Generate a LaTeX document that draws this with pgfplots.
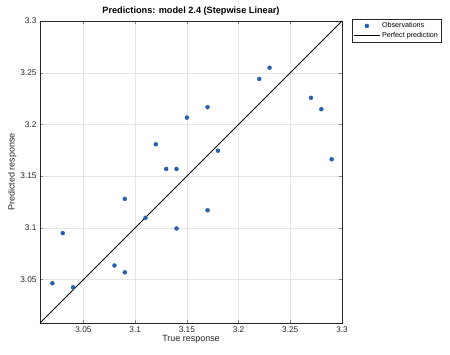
\documentclass[border=0pt]{standalone}
\usepackage{pgfplots}
\pgfplotsset{compat=1.18}
\usepackage{fontspec}
\setmainfont{Liberation Sans}
\usetikzlibrary{calc}
\definecolor{obs}{RGB}{40,95,170}
\definecolor{axgray}{RGB}{38,38,38}
\begin{document}
\begin{tikzpicture}
\begin{axis}[
  name=ax,
  scale only axis,
  width=302bp, height=302bp,
  xmin=3.008, xmax=3.3, ymin=3.008, ymax=3.3,
  xtick={3.05,3.1,3.15,3.2,3.25,3.3},
  ytick={3.05,3.1,3.15,3.2,3.25,3.3},
  /pgf/number format/assume math mode=true,
  /pgf/number format/fixed,
  /pgf/number format/precision=2,
  tick label style={font=\fontsize{8.3}{9}\selectfont, text=axgray},
  tick align=inside,
  major tick length=3bp,
  axis line style={axgray, line width=0.5pt},
  grid=major,
  grid style={gray!20, line width=0.4pt},
  title={\bfseries Predictions: model 2.4 (Stepwise Linear)},
  title style={font=\fontsize{9.2}{10}\selectfont, yshift=-4bp},
  xlabel={True response},
  ylabel={Predicted response},
  label style={font=\fontsize{9}{10}\selectfont, text=axgray},
  xlabel style={yshift=4bp},
  ylabel style={yshift=-3bp},
  legend style={at={(1.033,1.007)}, anchor=north west, font=\fontsize{7.2}{8}\selectfont,
    draw=axgray, line width=0.4pt, inner sep=1.5pt, row sep=-1pt},
  legend cell align=left,
]
\addplot[only marks, mark=*, mark size=2pt, color=obs,
  legend image code/.code={\draw plot coordinates {(0.45cm,0cm)};}] coordinates {
(3.15,3.2066) (3.17,3.2167) (3.22,3.244) (3.23,3.2548) (3.27,3.2257)
(3.28,3.2147) (3.12,3.1808) (3.18,3.1746) (3.29,3.1663) (3.13,3.157)
(3.14,3.157) (3.09,3.128) (3.17,3.117) (3.11,3.1097) (3.14,3.0994)
(3.03,3.0949) (3.08,3.0636) (3.09,3.057) (3.02,3.0464) (3.04,3.0425)
};
\addlegendentry{Observations}
\addplot[black, line width=0.9pt,
  legend image code/.code={\draw (0cm,0cm) -- (0.9cm,0cm);}] coordinates {(3.008,3.008) (3.3,3.3)};
\addlegendentry{Perfect prediction}
\end{axis}
\pgfresetboundingbox
\path ($(ax.south west)+(-40bp,-32bp)$) rectangle ($(ax.north east)+(108bp,21bp)$);
\end{tikzpicture}
\end{document}
